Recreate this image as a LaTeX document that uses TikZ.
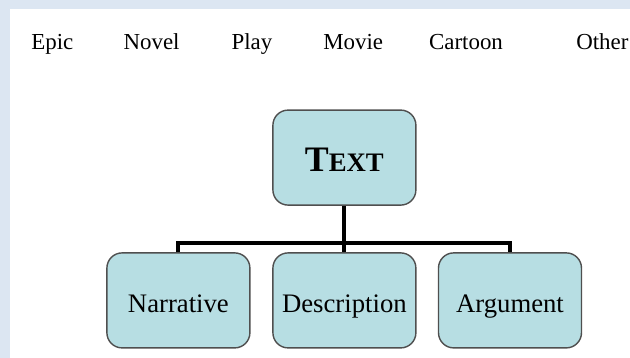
\documentclass[tikz,border=0pt]{standalone}
\usepackage{fontspec}
\setmainfont{Liberation Serif}
\newfontfamily\timesfont{Liberation Serif}
\usepackage{xcolor}
\usetikzlibrary{positioning, calc}
\definecolor{frameblue}{HTML}{DCE6F2}
\definecolor{boxteal}{HTML}{B7DEE3}
\definecolor{boxedge}{HTML}{4F4F4F}

\begin{document}
\begin{tikzpicture}[
    genre/.style={anchor=base, font=\timesfont\fontsize{16.3}{16.3}\selectfont},
    kindbox/.style={draw=boxedge, line width=1pt, fill=boxteal, rounded corners=0.38cm,
      minimum width=3.575cm, minimum height=2.375cm, inner sep=0pt,
      text height=0.62cm, text depth=0.04cm,
      font=\timesfont\fontsize{19}{19}\selectfont},
    link/.style={black, line width=2.8pt}
  ]
  \useasboundingbox (0,0) rectangle (15.75,-8.95);

  % Page background
  \fill[frameblue] (0,0) rectangle (15.75,-8.95);
  \fill[white] (0.25,-0.225) rectangle (15.75,-8.95);

  % Genres row (TOP)
  \node[genre] (epic) at (1.31,-1.25) {Epic};
  \node[genre] (novel) at (3.79,-1.25) {Novel};
  \node[genre] (play) at (6.30,-1.25) {Play};
  \node[genre] (movie) at (8.83,-1.25) {Movie};
  \node[genre] (cartoon) at (11.65,-1.25) {Cartoon};
  \node[genre, anchor=base west, inner sep=0pt] (other) at (14.40,-1.25) {Other};

  % Root box
  \node[kindbox, text height=0.7cm, text depth=0.02cm] (text) at (8.61,-3.94)
    {\bfseries\fontsize{25.5}{25.5}\selectfont T\fontsize{19}{19}\selectfont EXT};

  % Text types (LOWER)
  \node[kindbox] (narrative) at (4.46,-7.51) {Narrative};
  \node[kindbox] (description) at (8.61,-7.51) {Description};
  \node[kindbox] (argument) at (12.75,-7.51) {Argument};

  % Tree connectors
  \coordinate (bus) at (8.61,-6.075);
  \draw[link] (text.south) -- (description.north);
  \draw[link] (narrative.north) |- (bus) -| (argument.north);
\end{tikzpicture}
\end{document}
